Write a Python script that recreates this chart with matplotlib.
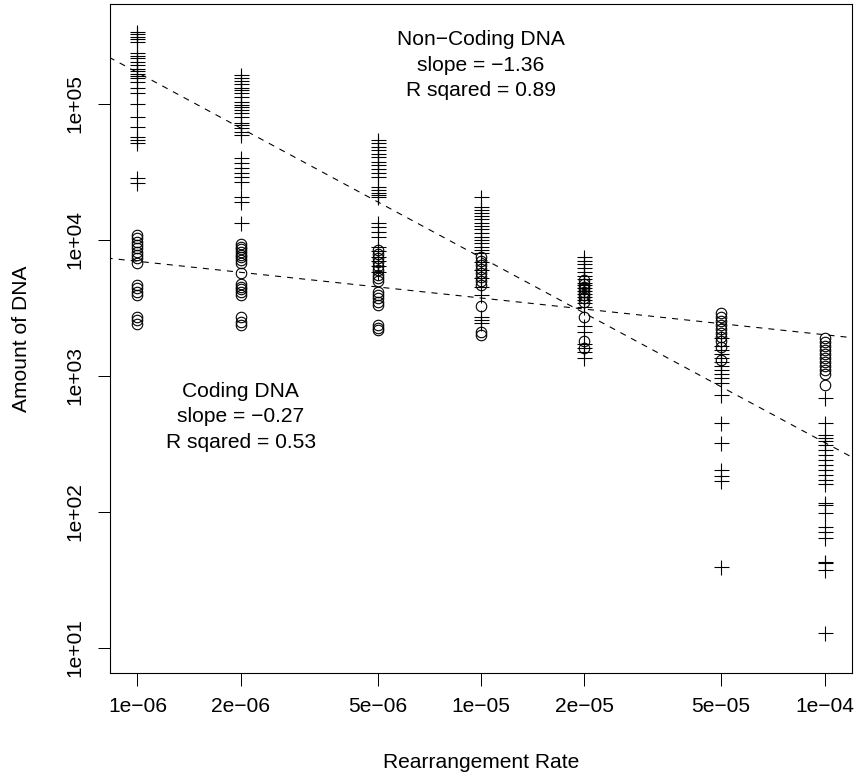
import numpy as np
import matplotlib
matplotlib.use("Agg")
import matplotlib.pyplot as plt

plt.rcParams['font.family'] = ['Liberation Sans', 'DejaVu Sans']

# Rearrangement rates tested
rates = [1e-6, 2e-6, 5e-6, 1e-5, 2e-5, 5e-5, 1e-4]

# Amount of non-coding DNA per run, grouped by rate
noncoding_1e6 = [334000, 323000, 310000, 297000, 285000, 234000, 223000, 215000, 203000,
                 192000, 181000, 174000, 165000, 159000, 153000, 145000, 131000, 120000,
                 99000, 79000, 67500, 57000, 54000, 51500, 28500, 26200]
noncoding_2e6 = [162000, 153000, 146000, 139000, 131000, 126000, 119000, 112000, 103000,
                 97500, 93800, 89600, 84700, 80000, 72300, 69600, 65700, 62100, 58700,
                 39500, 36300, 33400, 31000, 29000, 26600, 20600, 19000, 13300]
noncoding_5e6 = [54000, 51000, 48100, 45500, 42500, 40200, 37300, 35300, 32800, 30700,
                 29000, 24200, 23100, 22100, 21300, 20400, 13200, 12400, 11400, 10500,
                 8800, 8200, 7500, 6900, 6400, 5800]
noncoding_1e5 = [20400, 17400, 16500, 15700, 14900, 14100, 13300, 12600, 11900, 11200,
                 10500, 10000, 9370, 8860, 8370, 7920, 6830, 5970, 5210, 4480, 3910,
                 2690, 2560, 2430]
noncoding_2e5 = [7500, 7000, 6600, 6200, 5800, 5400, 5100, 4800, 4600, 4400, 4200, 4000,
                 3800, 3600, 3400, 3200, 2300, 2100, 1700, 1600, 1500, 1350]
noncoding_5e5 = [1900, 1650, 1540, 1440, 1350, 1260, 1180, 1100, 1030, 960, 880, 720,
                 449, 320, 203, 183, 168, 39]
noncoding_1e4 = [685, 449, 366, 348, 330, 309, 284, 261, 240, 220, 202, 186, 171, 160,
                 116, 112, 97.6, 76.9, 70.7, 63.9, 42.6, 41.9, 37.2, 12.8]

# Amount of coding DNA per run, grouped by rate
coding_1e6 = [10800, 10200, 9650, 9120, 8620, 8140, 7690, 7270, 6750, 4620, 4370, 4130,
              3910, 2710, 2560, 2390]
coding_2e6 = [9270, 8860, 8470, 8090, 7730, 7390, 7060, 6680, 5700, 4710, 4500, 4300,
              4110, 3910, 2680, 2490, 2350]
coding_5e6 = [8400, 7800, 7300, 6800, 6400, 6000, 5500, 5200, 4950, 4100, 3900, 3700,
              3470, 3300, 2350, 2250, 2150]
coding_1e5 = [7430, 6950, 6490, 6070, 5670, 5300, 4950, 4630, 3250, 2090, 1990]
coding_2e5 = [5000, 4700, 4500, 4300, 4100, 3900, 3700, 3500, 2690, 1800, 1600]
coding_5e5 = [2880, 2690, 2520, 2350, 2200, 2050, 1920, 1790, 1620, 1300]
coding_1e4 = [1890, 1760, 1650, 1540, 1440, 1350, 1260, 1180, 1100, 1030, 850]

noncoding_groups = [noncoding_1e6, noncoding_2e6, noncoding_5e6, noncoding_1e5,
                    noncoding_2e5, noncoding_5e5, noncoding_1e4]
coding_groups = [coding_1e6, coding_2e6, coding_5e6, coding_1e5,
                 coding_2e5, coding_5e5, coding_1e4]

# Log-log fits: slope and level at rate = 1e-5
noncoding_slope, noncoding_r2 = -1.36, 0.89
coding_slope, coding_r2 = -0.27, 0.53
noncoding_at_1e5 = 10 ** 3.868
coding_at_1e5 = 10 ** 3.57

x_ticks = [1e-6, 2e-6, 5e-6, 1e-5, 2e-5, 5e-5, 1e-4]
x_labels = ["1e\u221206", "2e\u221206", "5e\u221206", "1e\u221205", "2e\u221205",
            "5e\u221205", "1e\u221204"]
y_ticks = [1e1, 1e2, 1e3, 1e4, 1e5]
y_labels = ["1e+01", "1e+02", "1e+03", "1e+04", "1e+05"]

W, H = 861, 778
fig = plt.figure(figsize=(W / 100, H / 100), dpi=100)
left, right, top, bottom = 110, 852, 4, 673
ax = fig.add_axes([left / W, 1 - bottom / H, (right - left) / W, (bottom - top) / H])
ax.set_xscale("log")
ax.set_yscale("log")

px = 72 / 100  # one pixel in points
fs = 21 * px

for r, vals in zip(rates, noncoding_groups):
    ax.plot([r] * len(vals), vals, linestyle="none", marker="+", markersize=15 * px,
            markeredgewidth=1.1 * px, color="black", clip_on=False)
for r, vals in zip(rates, coding_groups):
    ax.plot([r] * len(vals), vals, linestyle="none", marker="o", markersize=10.5 * px,
            markerfacecolor="none", markeredgewidth=1.1 * px, color="black", clip_on=False)

ax.set_xlim(10 ** -6.08, 10 ** -3.92)
ax.set_ylim(10 ** 0.8125, 10 ** 5.732)

xx = np.array([10 ** -6.3, 10 ** -3.7])
for slope, level in [(noncoding_slope, noncoding_at_1e5), (coding_slope, coding_at_1e5)]:
    yy = level * (xx / 1e-5) ** slope
    ax.plot(xx, yy, color="black", linewidth=1.1 * px, dashes=(5.5, 5.5))

ax.text(1e-5, 10 ** 5.283,
        "Non\u2212Coding DNA\nslope = \u22121.36\nR sqared = 0.89",
        ha="center", va="center", fontsize=fs, linespacing=1.45)
ax.text(2e-6, 10 ** 2.695,
        "Coding DNA\nslope = \u22120.27\nR sqared = 0.53",
        ha="center", va="center", fontsize=fs, linespacing=1.45)

ax.minorticks_off()
ax.set_xticks(x_ticks)
ax.set_xticklabels(x_labels)
ax.set_yticks(y_ticks)
ax.set_yticklabels(y_labels, rotation=90, va="center")
ax.tick_params(axis="both", which="major", direction="out", length=12.5 * px,
               width=1.0 * px, labelsize=fs, color="black")
ax.tick_params(axis="x", pad=11 * px)
ax.tick_params(axis="y", pad=13 * px)
for s in ax.spines.values():
    s.set_linewidth(1.1 * px)
    s.set_color("black")

ax.set_xlabel("Rearrangement Rate", fontsize=fs, va="center")
ax.xaxis.set_label_coords(0.5, -(762 - bottom) / (bottom - top))
ax.set_ylabel("Amount of DNA", fontsize=fs, va="center")
ax.yaxis.set_label_coords(-(left - 22) / (right - left), 0.5)

fig.savefig("out.png", dpi=100)
